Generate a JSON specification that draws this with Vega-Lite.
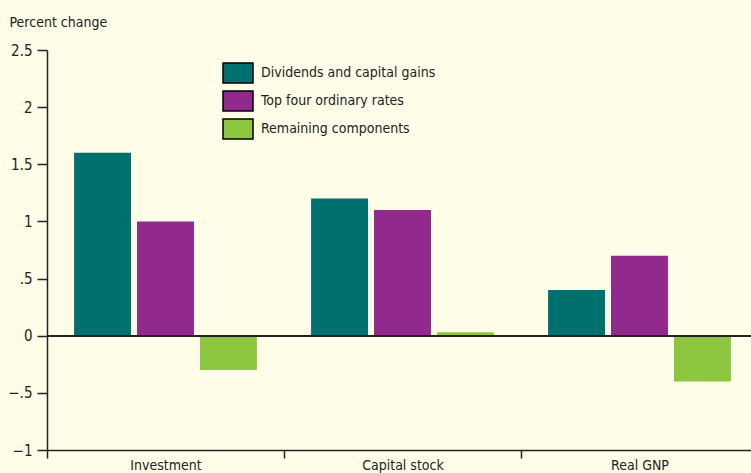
{
  "$schema": "https://vega.github.io/schema/vega-lite/v6.json",
  "width": 704,
  "height": 400,
  "autosize": "none",
  "padding": {"left": 47, "top": 50, "right": 0, "bottom": 23},
  "background": "#fffde8",
  "config": {
    "view": {"stroke": null},
    "font": "DejaVu Sans Condensed, sans-serif"
  },
  "data": {
    "values": [
      {"category": "Investment", "series": "Dividends and capital gains", "value": 1.6},
      {"category": "Investment", "series": "Top four ordinary rates", "value": 1.0},
      {"category": "Investment", "series": "Remaining components", "value": -0.3},
      {"category": "Capital stock", "series": "Dividends and capital gains", "value": 1.2},
      {"category": "Capital stock", "series": "Top four ordinary rates", "value": 1.1},
      {"category": "Capital stock", "series": "Remaining components", "value": 0.03},
      {"category": "Real GNP", "series": "Dividends and capital gains", "value": 0.4},
      {"category": "Real GNP", "series": "Top four ordinary rates", "value": 0.7},
      {"category": "Real GNP", "series": "Remaining components", "value": -0.4}
    ]
  },
  "layer": [
    {
      "mark": {"type": "bar"},
      "encoding": {
        "x": {
          "field": "category",
          "type": "nominal",
          "sort": ["Investment", "Capital stock", "Real GNP"],
          "scale": {"range": [0, 711], "paddingInner": 0, "paddingOuter": 0},
          "axis": {
            "title": null,
            "labelAngle": 0,
            "tickBand": "extent",
            "tickSize": 8,
            "tickWidth": 1.5,
            "tickColor": "#222",
            "domainColor": "#222",
            "domainWidth": 1.5,
            "labelFontSize": 14,
            "labelColor": "#222",
            "labelPadding": 0
          }
        },
        "xOffset": {
          "field": "series",
          "type": "nominal",
          "sort": ["Dividends and capital gains", "Top four ordinary rates", "Remaining components"],
          "scale": {"paddingInner": 0.095, "paddingOuter": 0.43}
        },
        "y": {
          "field": "value",
          "type": "quantitative",
          "scale": {"domain": [-1, 2.5], "nice": false, "zero": false},
          "axis": {
            "values": [-1, -0.5, 0, 0.5, 1, 1.5, 2, 2.5],
            "format": "~g",
            "labelExpr": "datum.value == 0.5 ? '.5' : datum.value == -0.5 ? '−.5' : datum.value == -1 ? '−1' : datum.label",
            "grid": false,
            "tickSize": 10,
            "tickWidth": 1.5,
            "tickColor": "#222",
            "domainColor": "#222",
            "domainWidth": 1.5,
            "labelFontSize": 15,
            "labelColor": "#222",
            "labelPadding": 5,
            "title": "Percent change",
            "titleAngle": 0,
            "titleAlign": "left",
            "titleBaseline": "alphabetic",
            "titleX": -38,
            "titleY": -24,
            "titleFontSize": 14,
            "titleFontWeight": "normal",
            "titleColor": "#222"
          }
        },
        "color": {
          "field": "series",
          "type": "nominal",
          "scale": {
            "domain": ["Dividends and capital gains", "Top four ordinary rates", "Remaining components"],
            "range": ["#00706e", "#922a8e", "#8dc63f"]
          },
          "legend": {
            "title": null,
            "orient": "none",
            "legendX": 180,
            "legendY": 12,
            "symbolType": "M-1.5,-1L1.5,-1L1.5,1L-1.5,1Z",
            "symbolSize": 400,
            "symbolStrokeColor": "#000",
            "symbolStrokeWidth": 1.5,
            "symbolOpacity": 1,
            "labelFontSize": 14,
            "labelColor": "#222",
            "labelOffset": 12,
            "labelLimit": 0,
            "rowPadding": 2
          }
        }
      }
    },
    {
      "mark": {"type": "rule", "color": "#222", "strokeWidth": 1.5},
      "encoding": {"y": {"datum": 0}}
    }
  ]
}
